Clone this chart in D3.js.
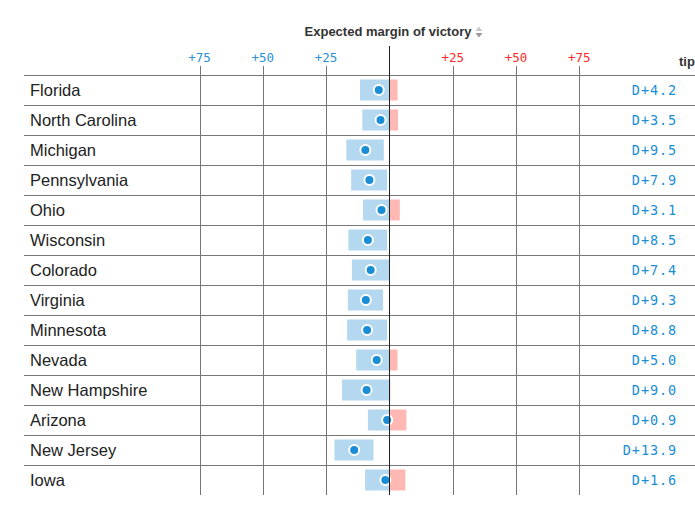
<!DOCTYPE html>
<html>
<head>
<meta charset="utf-8">
<script src="https://cdn.jsdelivr.net/npm/d3@7"></script>
<style>
  body { margin: 0; background: #fff; }
  svg { display: block; }
</style>
</head>
<body>
<div id="chart"></div>
<script>
// margin values: negative = Democratic lead, positive = Republican lead
var states = ["Florida", "North Carolina", "Michigan", "Pennsylvania", "Ohio",
  "Wisconsin", "Colorado", "Virginia", "Minnesota", "Nevada", "New Hampshire",
  "Arizona", "New Jersey", "Iowa"];
var margin = [-4.2, -3.5, -9.5, -7.9, -3.1, -8.5, -7.4, -9.3, -8.8, -5.0, -9.0, -0.9, -13.9, -1.6];
var low = [-11.6, -10.7, -17.0, -15.1, -10.4, -16.2, -14.8, -16.4, -16.7, -13.1, -18.7, -8.5, -21.7, -9.6];
var high = [3.2, 3.4, -2.2, -0.9, 4.1, -0.9, 0.0, -2.5, -0.9, 3.2, 0.4, 6.7, -6.3, 6.3];
var tickValues = [-75, -50, -25, 25, 50, 75];

var width = 695, height = 514;
var rowTop = 75, rowH = 30;

var svg = d3.select("#chart").append("svg")
  .attr("width", width)
  .attr("height", height);

var x = d3.scaleLinear().domain([-75, 75]).range([199.5, 579.3]);
var y = d3.scaleBand().domain(states).range([rowTop, rowTop + rowH * states.length]);

var rows = states.map(function (s, i) {
  return { state: s, margin: margin[i], low: low[i], high: high[i] };
});

// header
svg.append("text")
  .attr("x", 388)
  .attr("y", 36)
  .attr("text-anchor", "middle")
  .attr("font-family", "Liberation Sans, Arial, sans-serif")
  .attr("font-weight", "bold")
  .attr("font-size", 13)
  .attr("fill", "#333")
  .text("Expected margin of victory");

svg.append("path")
  .attr("d", "M479,26.5 L482.5,31 L475.5,31 Z")
  .attr("fill", "#c8c8c8");
svg.append("path")
  .attr("d", "M475.5,33 L482.5,33 L479,37.5 Z")
  .attr("fill", "#999");

svg.append("text")
  .attr("x", 679)
  .attr("y", 66)
  .attr("font-family", "Liberation Sans, Arial, sans-serif")
  .attr("font-weight", "bold")
  .attr("font-size", 13)
  .attr("fill", "#333")
  .text("tip");

// tick labels
svg.selectAll(".tick-label")
  .data(tickValues)
  .enter().append("text")
  .attr("class", "tick-label")
  .attr("x", function (d) { return x(d); })
  .attr("y", 61.5)
  .attr("text-anchor", "middle")
  .attr("font-family", "DejaVu Sans Mono, monospace")
  .attr("font-size", 12.5)
  .attr("letter-spacing", 0)
  .attr("fill", function (d) { return d < 0 ? "#2a8fd6" : "#ff2a2a"; })
  .text(function (d) { return "+" + Math.abs(d); });

// vertical grid lines
var gridBottom = rowTop + rowH * states.length;
svg.selectAll(".grid")
  .data(tickValues)
  .enter().append("line")
  .attr("class", "grid")
  .attr("x1", function (d) { return Math.round(x(d)) + 0.5; })
  .attr("x2", function (d) { return Math.round(x(d)) + 0.5; })
  .attr("y1", 66)
  .attr("y2", gridBottom)
  .attr("stroke", "#777")
  .attr("stroke-width", 1);

// row separators
svg.selectAll(".row-line")
  .data(states)
  .enter().append("line")
  .attr("class", "row-line")
  .attr("x1", 24)
  .attr("x2", width)
  .attr("y1", function (d) { return y(d) + 0.5; })
  .attr("y2", function (d) { return y(d) + 0.5; })
  .attr("stroke", "#777")
  .attr("stroke-width", 1);

// state names
svg.selectAll(".state")
  .data(rows)
  .enter().append("text")
  .attr("class", "state")
  .attr("x", 30)
  .attr("y", function (d) { return y(d.state) + rowH / 2 + 5.8; })
  .attr("font-family", "Liberation Sans, Arial, sans-serif")
  .attr("font-size", 16.5)
  .attr("fill", "#222")
  .text(function (d) { return d.state; });

// range bars
var barH = 21;
var g = svg.selectAll(".row")
  .data(rows)
  .enter().append("g")
  .attr("class", "row")
  .attr("transform", function (d) { return "translate(0," + (y(d.state) + (rowH - barH) / 2) + ")"; });

g.filter(function (d) { return d.low < 0; })
  .append("rect")
  .attr("x", function (d) { return x(d.low); })
  .attr("width", function (d) { return x(Math.min(d.high, 0)) - x(d.low); })
  .attr("height", barH)
  .attr("fill", "#b3d8ef");

g.filter(function (d) { return d.high > 0; })
  .append("rect")
  .attr("x", function (d) { return x(Math.max(d.low, 0)); })
  .attr("width", function (d) { return x(d.high) - x(Math.max(d.low, 0)); })
  .attr("height", barH)
  .attr("fill", "#ffb8b3");

// zero line
svg.append("line")
  .attr("x1", Math.round(x(0)) + 0.5)
  .attr("x2", Math.round(x(0)) + 0.5)
  .attr("y1", 46)
  .attr("y2", gridBottom)
  .attr("stroke", "#222")
  .attr("stroke-width", 1);

// expected margin dots
g.append("circle")
  .attr("cx", function (d) { return x(d.margin); })
  .attr("cy", barH / 2)
  .attr("r", 5)
  .attr("fill", "#1a8dd6")
  .attr("stroke", "#fff")
  .attr("stroke-width", 2);

// tip labels
svg.selectAll(".tip")
  .data(rows)
  .enter().append("text")
  .attr("class", "tip")
  .attr("x", 677)
  .attr("y", function (d) { return y(d.state) + rowH / 2 + 5; })
  .attr("text-anchor", "end")
  .attr("font-family", "DejaVu Sans Mono, monospace")
  .attr("font-size", 13.5)
  .attr("letter-spacing", 0.9)
  .attr("fill", function (d) { return d.margin < 0 ? "#1a8dd6" : "#ff2a2a"; })
  .text(function (d) { return (d.margin < 0 ? "D+" : "R+") + Math.abs(d.margin).toFixed(1); });
</script>
</body>
</html>
